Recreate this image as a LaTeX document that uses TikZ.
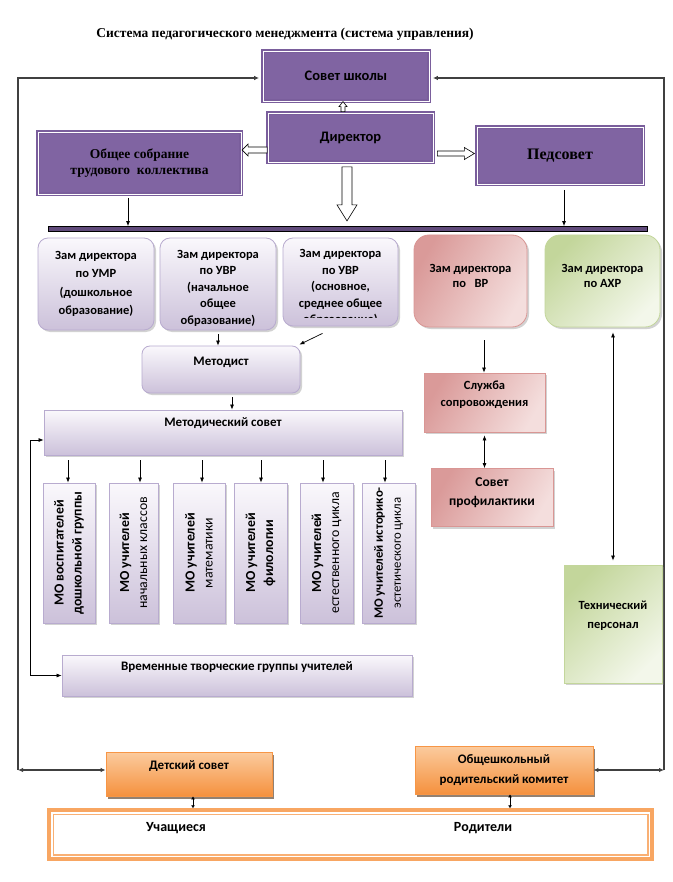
\documentclass[tikz,border=0pt]{standalone}
\usepackage{fontspec}
\setmainfont{Carlito}
\newfontfamily\serifb{Liberation Serif}
\usetikzlibrary{arrows.meta,shadows,calc}
\definecolor{pfill}{HTML}{8064A2}
\definecolor{pbord}{HTML}{7A5E9C}
\definecolor{barf}{HTML}{604A7B}
\definecolor{lavtop}{HTML}{FAF8FC}
\definecolor{lavbot}{HTML}{CCC1DA}
\definecolor{lavbd}{HTML}{B8ABCF}
\definecolor{pinkA}{HTML}{DA9A99}
\definecolor{pinkB}{HTML}{F4DEDD}
\definecolor{pinkbd}{HTML}{D99694}
\definecolor{grnA}{HTML}{C3D69B}
\definecolor{grnB}{HTML}{F3F7EA}
\definecolor{grnbd}{HTML}{C3D69B}
\definecolor{orgA}{HTML}{FBCB9E}
\definecolor{orgB}{HTML}{F5913E}
\definecolor{orgbd}{HTML}{F79646}
\definecolor{framec}{HTML}{404040}
\begin{document}
\begin{tikzpicture}[x=1pt,y=-1pt,
  font=\bfseries\fontsize{13}{16}\selectfont,
  pbox/.style={draw=pbord, double=white, double distance=0.9pt, line width=1.8pt, fill=pfill, inner sep=0pt},
  lav/.style={draw=lavbd, line width=0.8pt, top color=lavtop, bottom color=lavbot, inner sep=0pt,
    drop shadow={shadow xshift=2pt, shadow yshift=-2pt, opacity=0.35}},
  pink/.style={draw=pinkbd, line width=0.8pt, left color=pinkA, right color=pinkB, shading angle=60, inner sep=0pt,
    drop shadow={shadow xshift=2pt, shadow yshift=-2pt, opacity=0.35}},
  grn/.style={draw=grnbd, line width=0.8pt, left color=grnA, right color=grnB, shading angle=45, inner sep=0pt,
    drop shadow={shadow xshift=2pt, shadow yshift=-2pt, opacity=0.35}},
  org/.style={draw=orgbd, line width=0.8pt, top color=orgA, bottom color=orgB, inner sep=0pt,
    drop shadow={shadow xshift=2pt, shadow yshift=-3pt, opacity=0.6, fill=black!70!orgbd}},
  txt/.style={align=center, inner sep=0pt},
  arr/.style={-{Latex[length=5pt,width=4pt]}, line width=0.7pt, black},
  dbl/.style={{Latex[length=5pt,width=4pt]}-{Latex[length=5pt,width=4pt]}, line width=0.7pt, black},
  frame/.style={line width=1.1pt, framec},
  pics/harrow/.style args={#1/#2/#3/#4}{code={
    \draw[black, line width=0.6pt, fill=white] (0,-#2) -- ({#1-#4},-#2) -- ({#1-#4},-#3) -- (#1,0)
      -- ({#1-#4},#3) -- ({#1-#4},#2) -- (0,#2) -- cycle;}}
]
\useasboundingbox[fill=white] (0,0) rectangle (672,882);

% title
\node[txt, font=\serifb\bfseries\fontsize{13.5}{16}\selectfont] (title) at (285,34)
  {Система педагогического менеджмента (система управления)};

% top purple boxes
\node[pbox, minimum width=166pt, minimum height=50pt, font=\bfseries\fontsize{14.5}{16}\selectfont] (sovet) at (346,76) {Совет школы};
\node[pbox, minimum width=165pt, minimum height=49pt, font=\bfseries\fontsize{14.5}{16}\selectfont] (dir) at (350.5,137.5) {Директор};
\node[pbox, minimum width=203pt, minimum height=62pt, align=center,
  font=\serifb\bfseries\fontsize{13.5}{16.5}\selectfont] (obsh) at (139.5,163) {Общее собрание\\трудового\ \ коллектива};
\node[pbox, minimum width=166pt, minimum height=57pt,
  font=\serifb\bfseries\fontsize{16}{18}\selectfont] (ped) at (560,155.5) {Педсовет};

% hollow arrows from director
\pic[rotate=90] at ($(dir.north)+(-7.5,-0.5)$) {harrow={10/2/4/5}};
\pic[rotate=180] at ($(dir.west)+(0,12.5)$) {harrow={25/3/6/6}};
\pic at ($(dir.east)+(3.5,16)$) {harrow={37/2.5/6/10}};
\pic[rotate=-90] at ($(dir.south)+(-3.5,4)$) {harrow={54/5/10/16}};

% bar
\node[draw=black, fill=barf, line width=0.8pt, minimum width=599pt, minimum height=5pt, inner sep=0pt] (bar) at (347.5,229) {};
\coordinate (o1) at ($(obsh.south)+(-11.5,3)$);
\draw[arr] (o1) -- (o1 |- bar.north);
\coordinate (p1) at ($(ped.south)+(4,5)$);
\draw[arr] (p1) -- (p1 |- bar.north);

% frame lines
\coordinate (tl) at (18,78);
\coordinate (tr) at (664,78);
\coordinate (bl) at (18,770);
\coordinate (br) at (664,770);
\draw[frame, -{Latex[length=5pt,width=4.5pt]}] (bl) -- (tl) -- ($(sovet.west |- tl)+(-3,0)$);
\draw[frame, -{Latex[length=5pt,width=4.5pt]}] (br) -- (tr) -- ($(sovet.east |- tr)+(3,0)$);

% deputy boxes
\node[lav, rounded corners=10pt, minimum width=116pt, minimum height=92pt] (z1) at (96,284) {};
\node[lav, rounded corners=10pt, minimum width=116pt, minimum height=92pt] (z2) at (218,284) {};
\node[lav, rounded corners=10pt, minimum width=115pt, minimum height=88pt] (z3) at (340.5,282) {};
\node[pink, rounded corners=15pt, minimum width=113pt, minimum height=92pt] (vr) at (470.5,281) {};
\node[grn, rounded corners=15pt, minimum width=115pt, minimum height=92pt] (ahr) at (602.5,281) {};

\node[txt, font=\bfseries\fontsize{12.5}{18.3}\selectfont] (z1t) at (z1.center) {Зам директора\\по УМР\\(дошкольное\\образование)};
\node[txt, font=\bfseries\fontsize{12.5}{16.5}\selectfont] (z2t) at ($(z2.center)+(0,4)$) {Зам директора\\по УВР\\(начальное\\общее\\образование)};
\begin{scope}
\clip (283,236) rectangle (398,317);
\node[txt, font=\bfseries\fontsize{12.5}{16.5}\selectfont] (z3t) at ($(z3.center)+(0,5.5)$) {Зам директора\\по УВР\\(основное,\\среднее общее\\образование)};
\end{scope}
\node[txt, font=\bfseries\fontsize{12.5}{15}\selectfont] (vrt) at ($(vr.center)+(0,-5.5)$) {Зам директора\\по\ \ \ ВР};
\node[txt, font=\bfseries\fontsize{12.5}{15}\selectfont] (ahrt) at ($(ahr.center)+(0,-5.5)$) {Зам директора\\по АХР};

% methodist
\node[lav, rounded corners=8pt, minimum width=158pt, minimum height=47pt] (met) at (221,369.5) {};
\node[txt] (mett) at ($(met.center)+(0,-7)$) {Методист};
\draw[arr] ([yshift=-4pt]z2.south) -- (z2.south |- met.north);
\draw[arr] ([xshift=-18pt,yshift=-7pt]z3.south) -- ([xshift=-1pt,yshift=1pt]met.north east);

% methodical council
\node[lav, minimum width=358pt, minimum height=45pt] (ms) at (223,432.5) {};
\node[txt] (mst) at ($(ms.center)+(0,-9)$) {Методический совет};
\coordinate (m1) at ([xshift=11pt,yshift=-4pt]met.south);
\draw[arr] (m1) -- (m1 |- ms.north);

% MO boxes
\node[lav, minimum width=52pt, minimum height=140pt] (mo1) at (69,553) {};
\node[lav, minimum width=49pt, minimum height=140pt] (mo2) at (133.5,553) {};
\node[lav, minimum width=52pt, minimum height=140pt] (mo3) at (199,553) {};
\node[lav, minimum width=53pt, minimum height=140pt] (mo4) at (260.5,553) {};
\node[lav, minimum width=53pt, minimum height=140pt] (mo5) at (326.5,553) {};
\node[lav, minimum width=53pt, minimum height=140pt] (mo6) at (388.5,553) {};
\foreach \m/\dx in {mo1/-1,mo2/6.5,mo3/3,mo4/0.5,mo5/-3.5,mo6/-3.5}{
  \coordinate (\m t) at ([xshift=\dx pt]\m.north);
  \path (\m t |- ms.south) coordinate (\m s);
  \draw[arr] ([yshift=-5pt]\m s) -- (\m t);
}
\begin{scope}[every node/.style={txt, rotate=90, font=\fontsize{13.8}{18}\selectfont}]
\node (mo1t) at (mo1.center) {\bfseries МО воспитателей\\\bfseries дошкольной группы};
\node (mo2t) at (mo2.center) {\bfseries МО учителей\\\mdseries начальных классов};
\node (mo3t) at (mo3.center) {\bfseries МО учителей\\\mdseries математики};
\node (mo4t) at (mo4.center) {\bfseries МО учителей\\\bfseries филологии};
\node (mo5t) at (mo5.center) {\bfseries МО учителей\\\mdseries естественного цикла};
\node[font=\fontsize{12.8}{18}\selectfont] (mo6t) at (mo6.center) {\bfseries МО учителей историко-\\\mdseries эстетического цикла};
\end{scope}

% temporary groups
\node[lav, minimum width=350pt, minimum height=41pt] (vtg) at (237,675.5) {};
\node[txt] (vtgt) at ($(vtg.center)+(0,-8)$) {Временные творческие группы учителей};
\coordinate (bk) at (30,440);
\draw[arr] (bk) -- (bk -| ms.west);
\draw[arr] (bk) |- (vtg.west);

% VR branch
\node[pink, minimum width=121pt, minimum height=59pt] (sl) at (484.5,402.5) {};
\node[txt, font=\bfseries\fontsize{12.5}{17}\selectfont] (slt) at ($(sl.center)+(0,-8)$) {Служба\\сопровождения};
\coordinate (v1) at ([xshift=13.5pt,yshift=-13pt]vr.south);
\draw[arr] (v1) -- (v1 |- sl.north);
\node[pink, minimum width=122pt, minimum height=58pt] (sp) at (492,497.5) {};
\node[txt, font=\bfseries\fontsize{13.5}{19}\selectfont] (spt) at ($(sp.center)+(0,-5)$) {Совет\\профилактики};
\draw[dbl] ([yshift=-3pt]sl.south) -- (sl.south |- sp.north);

% AHR branch
\node[grn, minimum width=98pt, minimum height=118pt] (tech) at (613,624) {};
\node[txt, font=\bfseries\fontsize{12.5}{19}\selectfont] (techt) at ($(tech.center)+(0,-8.5)$) {Технический\\персонал};
\coordinate (a1) at (tech.north |- ahr.south);
\draw[dbl] ([yshift=-5pt]a1) -- ([yshift=4pt]tech.north);

% bottom
\node[org, minimum width=166pt, minimum height=44pt] (det) at (189,774) {};
\node[txt] (dett) at ($(det.center)+(0,-8)$) {Детский совет};
\node[org, minimum width=178pt, minimum height=48pt] (obk) at (504,770) {};
\node[txt, font=\bfseries\fontsize{13}{20}\selectfont] (obkt) at (obk.center) {Общешкольный\\родительский комитет};
\draw[frame, {Latex[length=5pt,width=4.5pt]}-{Latex[length=5pt,width=4.5pt]}] (bl) -- (bl -| det.west);
\draw[frame, {Latex[length=5pt,width=4.5pt]}-{Latex[length=5pt,width=4.5pt]}] (obk.east |- br) -- (br);

\node[draw=orgbd!85, line width=3.5pt, minimum width=603pt, minimum height=49pt, inner sep=0pt] (bot) at (350.5,834.5) {};
\draw[orgbd!75, line width=1.5pt] ([shift={(6pt,-6pt)}]bot.north west) rectangle ([shift={(-6pt,6pt)}]bot.south east);
\node[txt, font=\bfseries\fontsize{14}{16}\selectfont] (uch) at (176,828) {Учащиеся};
\node[txt, font=\bfseries\fontsize{14}{16}\selectfont] (rod) at (483,828) {Родители};
\draw[{Latex[length=3pt,width=4pt]}-{Latex[length=3pt,width=4pt]}, line width=0.6pt] ([xshift=4pt]det.south) -- ([xshift=4pt]det.south |- bot.north);
\draw[{Latex[length=3pt,width=4pt]}-{Latex[length=3pt,width=4pt]}, line width=0.6pt] ([xshift=6pt]obk.south) -- ([xshift=6pt]obk.south |- bot.north);
\end{tikzpicture}
\end{document}
